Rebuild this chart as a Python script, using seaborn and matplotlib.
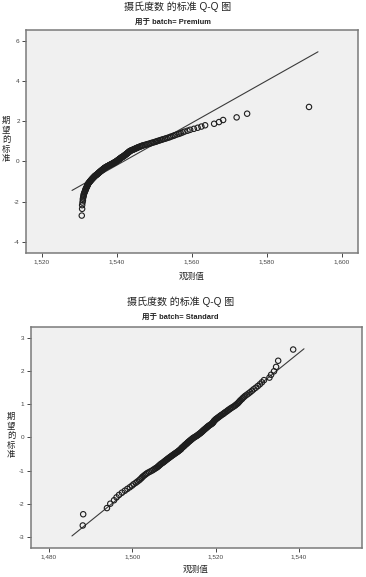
import matplotlib
matplotlib.use("Agg")
import matplotlib.pyplot as plt
import matplotlib.ticker as mticker
import seaborn as sns
import pandas as pd
from statistics import NormalDist

premium_obs = [
    1.5306, 1.5307, 1.5307, 1.5308, 1.5309, 1.5309, 1.5310, 1.5311, 1.5311, 1.5312,
    1.5313, 1.5314,
    1.5315, 1.5316, 1.5316, 1.5317, 1.5318,
    1.5319, 1.5320, 1.5320, 1.5321, 1.5322, 1.5322, 1.5323, 1.5324,
    1.5325, 1.5326, 1.5327, 1.5328, 1.5329, 1.5330, 1.5331, 1.5332,
    1.5333, 1.5334, 1.5335, 1.5336, 1.5337, 1.5338, 1.5339, 1.5340, 1.5341, 1.5342,
    1.5343, 1.5345, 1.5346,
    1.5347, 1.5348, 1.5349, 1.5350, 1.5351, 1.5352, 1.5353, 1.5354, 1.5355, 1.5356,
    1.5357, 1.5358, 1.5359,
    1.5360, 1.5361, 1.5362, 1.5363, 1.5364, 1.5365, 1.5366, 1.5367, 1.5368, 1.5369,
    1.5371, 1.5372,
    1.5373, 1.5375, 1.5376, 1.5378, 1.5379, 1.5380, 1.5382, 1.5383, 1.5385, 1.5386,
    1.5388, 1.5389, 1.5390, 1.5392, 1.5393, 1.5394, 1.5395, 1.5397, 1.5398,
    1.5399, 1.5400, 1.5401, 1.5402, 1.5403, 1.5404, 1.5405, 1.5406, 1.5407, 1.5408,
    1.5409, 1.5410, 1.5411, 1.5412, 1.5413, 1.5414, 1.5416, 1.5417,
    1.5418, 1.5419, 1.5420, 1.5421, 1.5422, 1.5423, 1.5424, 1.5425, 1.5426, 1.5427,
    1.5428, 1.5429, 1.5430, 1.5431, 1.5432, 1.5433, 1.5434, 1.5435,
    1.5437, 1.5439, 1.5441, 1.5443, 1.5445, 1.5447, 1.5449, 1.5451, 1.5453, 1.5455,
    1.5457, 1.5460, 1.5462, 1.5465, 1.5467, 1.5470,
    1.5474, 1.5478, 1.5481, 1.5485, 1.5489, 1.5492, 1.5496, 1.5500, 1.5504, 1.5507,
    1.5511, 1.5515,
    1.5519, 1.5523, 1.5528, 1.5532, 1.5537, 1.5541, 1.5545, 1.5550, 1.5554, 1.5559,
    1.5565, 1.5570, 1.5575, 1.5580, 1.5588, 1.5595,
    1.5605, 1.5615, 1.5625, 1.5635,
    1.5659, 1.5672, 1.5683, 1.5719, 1.5747, 1.5912,
]

standard_obs = [
    1.4881, 1.4882, 1.4939, 1.4947, 1.4956, 1.4962, 1.4968, 1.4975, 1.4982, 1.4988,
    1.4994, 1.4999, 1.5003, 1.5008, 1.5012, 1.5016, 1.5019, 1.5022, 1.5024, 1.5027,
    1.5030, 1.5033, 1.5036, 1.5040, 1.5044, 1.5048, 1.5051, 1.5054, 1.5057, 1.5060,
    1.5062, 1.5064, 1.5066, 1.5068, 1.5070, 1.5073, 1.5075, 1.5077, 1.5079, 1.5081,
    1.5083, 1.5085, 1.5087, 1.5089, 1.5091, 1.5093, 1.5095, 1.5097, 1.5099, 1.5101,
    1.5103, 1.5105, 1.5107, 1.5109, 1.5111, 1.5112, 1.5114, 1.5116, 1.5117, 1.5118,
    1.5119, 1.5121, 1.5122, 1.5124, 1.5125, 1.5126, 1.5128, 1.5129, 1.5131, 1.5132,
    1.5133, 1.5135, 1.5136, 1.5138, 1.5139, 1.5141, 1.5142, 1.5144, 1.5145, 1.5147,
    1.5149, 1.5151, 1.5153, 1.5155, 1.5157, 1.5158, 1.5160, 1.5162, 1.5163, 1.5165,
    1.5166, 1.5168, 1.5169, 1.5170, 1.5172, 1.5173, 1.5175, 1.5176, 1.5178, 1.5179,
    1.5181, 1.5182, 1.5184, 1.5186, 1.5188, 1.5190, 1.5192, 1.5193, 1.5194, 1.5195,
    1.5196, 1.5197, 1.5199, 1.5200, 1.5202, 1.5204, 1.5206, 1.5208, 1.5210, 1.5212,
    1.5214, 1.5217, 1.5219, 1.5221, 1.5223, 1.5226, 1.5228, 1.5230, 1.5233, 1.5235,
    1.5238, 1.5241, 1.5244, 1.5247, 1.5249, 1.5252, 1.5254, 1.5256, 1.5258, 1.5260,
    1.5263, 1.5265, 1.5268, 1.5271, 1.5275, 1.5279, 1.5283, 1.5287, 1.5291, 1.5296,
    1.5301, 1.5306, 1.5311, 1.5316, 1.5329, 1.5333, 1.5340, 1.5345, 1.5350, 1.5386,
]

# reference line: y = (x - mean) / sd, drawn over the x span shown
premium_line_x = [1.528, 1.5936]
premium_mean, premium_sd = 1.5418, 0.00952
standard_line_x = [1.4855, 1.5412]
standard_mean, standard_sd = 1.5148, 0.00984

premium_xticks = [1.520, 1.540, 1.560, 1.580, 1.600]
premium_yticks = [-4, -2, 0, 2, 4, 6]
standard_xticks = [1.480, 1.500, 1.520, 1.540]
standard_yticks = [-3, -2, -1, 0, 1, 2, 3]

title_text = "摄氏度数 的标准 Q-Q 图"
xlabel_text = "观测值"
ylabel_text = "期望的标准"


def qq_frame(obs):
    obs = sorted(obs)
    n = len(obs)
    nd = NormalDist()
    # Blom positions, as SPSS uses
    exp = [nd.inv_cdf((i - 0.375) / (n + 0.25)) for i in range(1, n + 1)]
    return pd.DataFrame({"obs": obs, "exp": exp})


def line_frame(xs, mean, sd):
    return pd.DataFrame({"x": xs, "y": [(x - mean) / sd for x in xs]})


sns.set_style("white")
plt.rcParams["font.family"] = ["Liberation Sans", "Noto Sans CJK SC", "DejaVu Sans"]
plt.rcParams["axes.unicode_minus"] = False

fig = plt.figure(figsize=(3.66, 5.77), dpi=100)
W, H = 366.0, 577.0


def comma_fmt(v, pos):
    return ("%.3f" % v).replace(".", ",")


def draw_panel(rect, obs, lx, mean, sd, xlim, ylim, xticks, yticks):
    ax = fig.add_axes(rect)
    ax.set_facecolor("#f0f0f0")
    sns.lineplot(data=line_frame(lx, mean, sd), x="x", y="y", ax=ax,
                 color="#3a3a3a", linewidth=0.8, zorder=2)
    sns.scatterplot(data=qq_frame(obs), x="obs", y="exp", ax=ax,
                    marker="o", s=15, facecolors="none", edgecolor="#1e1e1e",
                    linewidth=0.8, zorder=3)
    ax.set_xlim(*xlim)
    ax.set_ylim(*ylim)
    ax.set_xticks(xticks)
    ax.set_yticks(yticks)
    ax.xaxis.set_major_formatter(mticker.FuncFormatter(comma_fmt))
    ax.tick_params(axis="both", labelsize=4.6, colors="#444444", length=3,
                   width=0.7, direction="out", pad=1.5)
    ax.tick_params(bottom=True, left=True)
    ax.set_xlabel("")
    ax.set_ylabel("")
    for sp in ax.spines.values():
        sp.set_color("#7a7a7a")
        sp.set_linewidth(1.1)
    return ax


# top panel (Premium)
draw_panel([26 / W, 1 - 253 / H, 332.5 / W, 223.5 / H], premium_obs,
           premium_line_x, premium_mean, premium_sd,
           (1.51573, 1.6044), (-4.56, 6.55), premium_xticks, premium_yticks)
# bottom panel (Standard)
draw_panel([30.7 / W, 1 - 547.7 / H, 330.8 / W, 221.2 / H], standard_obs,
           standard_line_x, standard_mean, standard_sd,
           (1.4756, 1.5550), (-3.333, 3.357), standard_xticks, standard_yticks)


def put(x, y, s, **kw):
    fig.text(x / W, 1 - y / H, s, ha="center", va="center", rotation=0, **kw)


def put_stacked(x, y_center, s, step=9.5, **kw):
    # SPSS stacks the characters of the y label one under the other, upright
    y0 = y_center - step * (len(s) - 1) / 2
    for k, ch in enumerate(s):
        put(x, y0 + k * step, ch, **kw)


put(178, 7, title_text, fontsize=7.2, color="#222222")
put(173, 23, "用于 batch= Premium", fontsize=5.4, fontweight="bold", color="#222222")
put(192, 276, xlabel_text, fontsize=6.2, color="#222222")
put_stacked(6, 140, ylabel_text, fontsize=6, color="#222222")

put(180.5, 302, title_text, fontsize=7.2, color="#222222")
put(180.5, 318.5, "用于 batch= Standard", fontsize=5.4, fontweight="bold", color="#222222")
put(196, 569, xlabel_text, fontsize=6.2, color="#222222")
put_stacked(11, 436, ylabel_text, fontsize=6, color="#222222")

fig.savefig("out.png", dpi=100)
